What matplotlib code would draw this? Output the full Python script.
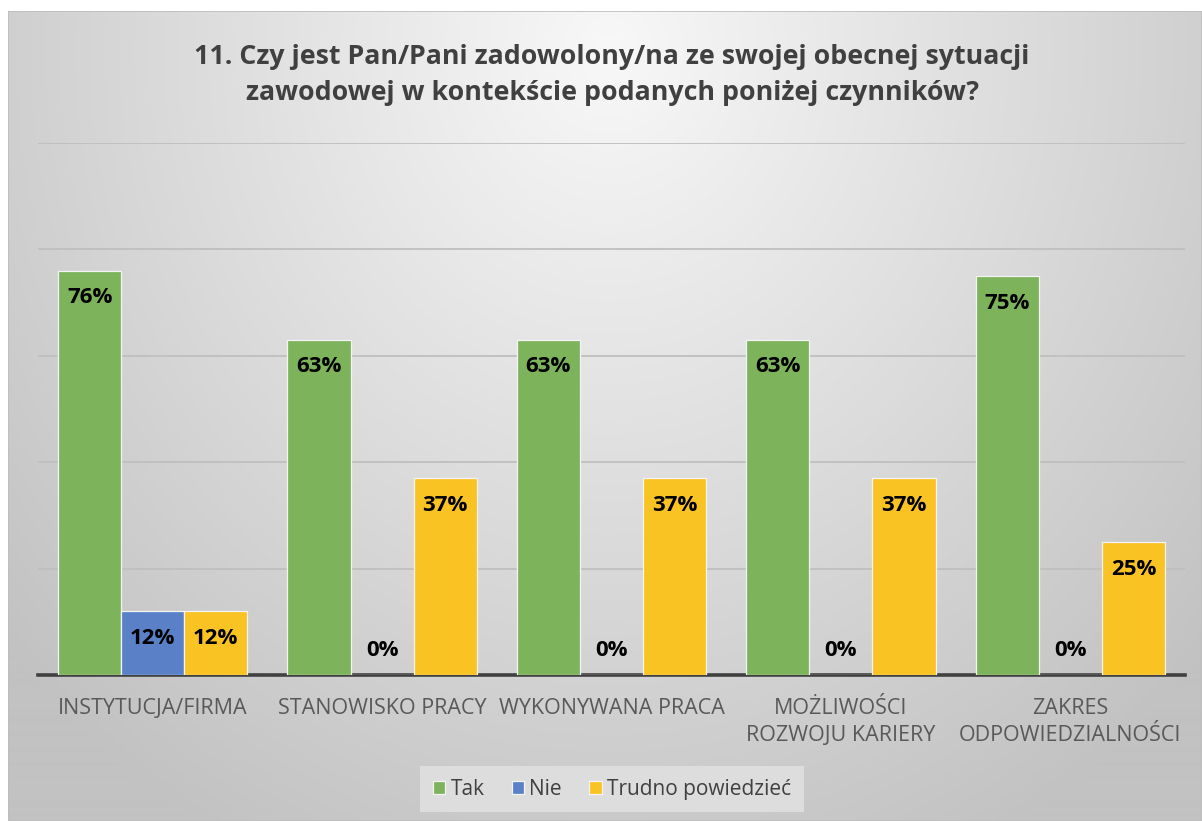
import numpy as np
import matplotlib
matplotlib.use("Agg")
import matplotlib.pyplot as plt
from matplotlib.patches import Rectangle

plt.rcParams['font.family'] = ['Open Sans', 'DejaVu Sans']

categories = ["INSTYTUCJA/FIRMA", "STANOWISKO PRACY", "WYKONYWANA PRACA",
              "MOŻLIWOŚCI\nROZWOJU KARIERY", "ZAKRES\nODPOWIEDZIALNOŚCI"]
series_names = ["Tak", "Nie", "Trudno powiedzieć"]
tak = [76, 63, 63, 63, 75]
nie = [12, 0, 0, 0, 0]
trudno = [12, 37, 37, 37, 25]
colors = ["#7DB35B", "#5A81C7", "#F9C323"]
title = ("11. Czy jest Pan/Pani zadowolony/na ze swojej obecnej sytuacji\n"
         "zawodowej w kontekście podanych poniżej czynników?")

W, H = 1202, 821
fig = plt.figure(figsize=(W / 100, H / 100), dpi=100)
fig.patch.set_facecolor("white")

# chart area background: soft radial gradient
x0, y0 = 8, 11
bg = fig.add_axes([x0 / W, 0, 1 - x0 / W, 1 - y0 / H])
bg.set_axis_off()
yy, xx = np.mgrid[0:H - y0, 0:W - x0]
d = np.sqrt(((xx - 600) / 800.0) ** 2 + ((yy - 40) / 900.0) ** 2)
d = np.clip(d, 0, 1)
val = (0xF8 - (0xF8 - 0xC2) * d) / 255.0
img = np.dstack([val, val, val])
bg.imshow(img, aspect="auto", extent=[0, 1, 0, 1], origin="upper")
bg.add_patch(Rectangle((0, 0), 1, 1, transform=bg.transAxes, fill=False,
                       edgecolor="#BDBDBD", lw=1.2))

# plotting area in pixel coordinates
left, right, top, bottom = 38, 1185, 143, 675
ax = fig.add_axes([left / W, (H - bottom) / H, (right - left) / W, (bottom - top) / H])
ax.set_facecolor("none")
ax.set_xlim(-0.5, len(categories) - 0.5)
ax.set_ylim(0, 100)
for s in ["top", "right", "left"]:
    ax.spines[s].set_visible(False)
ax.spines["bottom"].set_color("#404040")
ax.spines["bottom"].set_linewidth(2.6)
ax.set_yticks([20, 40, 60, 80, 100])
ax.yaxis.grid(True, color="#BFBFBF", lw=1.3)
ax.set_axisbelow(True)
ax.tick_params(axis="y", left=False, labelleft=False)
ax.tick_params(axis="x", bottom=False, pad=13)

x = np.arange(len(categories))
w = 0.275
for i, (vals, c) in enumerate(zip([tak, nie, trudno], colors)):
    pos = x + (i - 1) * w
    ax.bar(pos, vals, width=w, color=c, edgecolor="#F4F4F4", linewidth=0.9,
           label=series_names[i], zorder=3)
    for xp, v in zip(pos, vals):
        off = -19.5 if v > 0 else 17.5
        ax.annotate(f"{v}%", xy=(xp, v), xytext=(0, off), textcoords="offset points",
                    ha="center", va="center", fontsize=16, fontweight="bold",
                    color="black", zorder=4)

ax.set_xticks(x)
ax.set_xticklabels(categories, fontsize=15.5, color="#595959", linespacing=1.4,
                   va="top")

fig.text(612 / W, 1 - 75 / H, title, ha="center", va="center", fontsize=19.3,
         fontweight="bold", color="#404040", linespacing=1.5)

leg = fig.legend(loc="center", bbox_to_anchor=(612 / W, 1 - 789 / H), ncol=3,
                 frameon=True, fontsize=15, handlelength=0.6, handleheight=0.6,
                 handletextpad=0.25, columnspacing=1.3, borderpad=0.3)
leg.get_frame().set_facecolor("#DDDDDD")
leg.get_frame().set_edgecolor("none")
leg.get_frame().set_alpha(1)
leg.get_frame().set_boxstyle("square", pad=0.3)
for t in leg.get_texts():
    t.set_color("#404040")

fig.savefig("out.png", dpi=100)
